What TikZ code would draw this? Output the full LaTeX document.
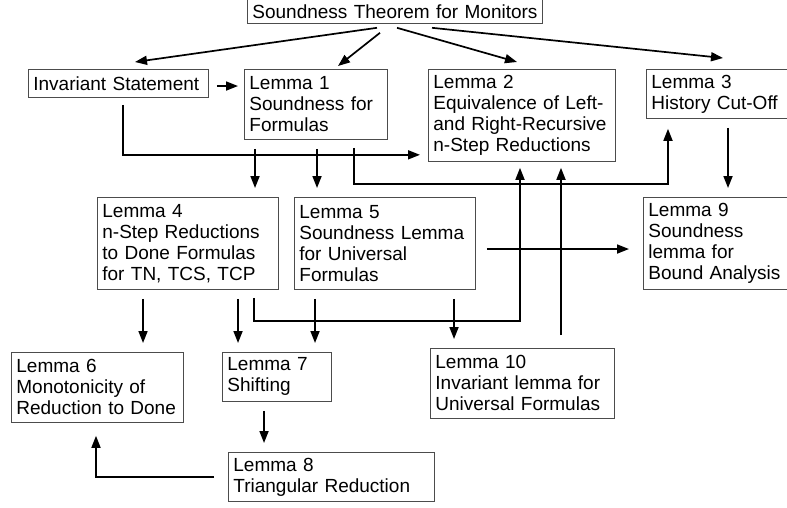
\documentclass[tikz,border=0pt]{standalone}
\usepackage{fontspec}
\setmainfont{Liberation Sans}
\usetikzlibrary{arrows.meta}

\begin{document}
\begin{tikzpicture}[x=1pt, y=-1pt]
\tikzstyle{lemma}=[draw=black!70, line width=0.8pt, rectangle, anchor=north west,
                   align=left, inner xsep=5pt, inner ysep=1pt,
                   font=\fontsize{19}{21}\selectfont]
\tikzstyle{arr}=[line width=1.7pt, -{Triangle[length=12pt, width=9pt]}]
\useasboundingbox (0,0) rectangle (787,507);

  % boxes, placed by their top left corner
  \node[lemma, text width=285pt, minimum height=24pt] (top) at (247,-1)
    {\mbox{Soundness Theorem for Monitors}};
  \node[lemma, text width=170pt, minimum height=28pt] (inv) at (28,69)
    {Invariant Statement};
  \node[lemma, text width=133pt, minimum height=70pt] (l1) at (244,69)
    {Lemma 1\\Soundness for\\Formulas};
  \node[lemma, text width=177pt, minimum height=92pt] (l2) at (428,69)
    {Lemma 2\\Equivalence of Left-\\and Right-Recursive\\n-Step Reductions};
  \node[lemma, text width=132pt, minimum height=49pt] (l3) at (646,69)
    {Lemma 3\\History Cut-Off};
  \node[lemma, text width=171pt, minimum height=92pt] (l4) at (97,197)
    {Lemma 4\\n-Step Reductions\\to Done Formulas\\for TN, TCS, TCP};
  \node[lemma, text width=171pt, minimum height=92pt] (l5) at (294,197)
    {Lemma 5\\Soundness Lemma\\for Universal\\Formulas};
  \node[lemma, text width=135pt, minimum height=92pt] (l9) at (643,197)
    {Lemma 9\\Soundness\\lemma for\\Bound Analysis};
  \node[lemma, text width=162pt, minimum height=70pt] (l6) at (11,352)
    {Lemma 6\\Monotonicity of\\Reduction to Done};
  \node[lemma, text width=99pt, minimum height=49pt] (l7) at (222,352)
    {Lemma 7\\Shifting};
  \node[lemma, text width=174pt, minimum height=70pt] (l10) at (430,348)
    {Lemma 10\\Invariant lemma for\\Universal Formulas};
  \node[lemma, text width=196pt, minimum height=49pt] (l8) at (228,452)
    {Lemma 8\\Triangular Reduction};

  % from the theorem
  \draw[arr] ([xshift=130, yshift=-4]top.south west) -- ([xshift=107, yshift=7]inv.north west);
  \draw[arr] ([xshift=133, yshift=-9]top.south west) -- ([xshift=94, yshift=3]l1.north west);
  \draw[arr] ([xshift=150, yshift=-4]top.south west) -- ([xshift=89, yshift=7]l2.north west);
  \draw[arr] ([xshift=185, yshift=-4]top.south west) -- ([xshift=77, yshift=11]l3.north west);

  % straight downward arrows
  \foreach \source/\xs/\dest/\xd in {l1/11/l4/158,
                                     l1/73/l5/23,
                                     l3/82/l9/85,
                                     l4/46/l6/132,
                                     l4/141/l7/16,
                                     l5/21/l7/93,
                                     l5/160/l10/24,
                                     l7/42/l8/36}
    \draw[arr] ([xshift=\xs, yshift=-9]\source.south west) -- ([xshift=\xd, yshift=9]\dest.north west);

  % the others
  \draw[arr] ([xshift=8, yshift=-17]inv.north east) -- ([xshift=-6, yshift=-17]l1.north west);
  \draw[arr] ([xshift=95, yshift=-7]inv.south west) |- ([xshift=-8, yshift=7]l2.south west);
  \draw[arr] ([xshift=110, yshift=-8]l1.south west) -- ([xshift=110, yshift=-44]l1.south west)
             -| ([xshift=22, yshift=-10]l3.south west);
  \draw[arr] ([xshift=11, yshift=-52]l5.north east) -- ([xshift=-14, yshift=-52]l9.north west);
  \draw[arr] ([xshift=157, yshift=-8]l4.south west) -- ([xshift=157, yshift=-31]l4.south west)
             -| ([xshift=92, yshift=-6]l2.south west);
  \draw[arr] ([xshift=131, yshift=13]l10.north west) -- ([xshift=133, yshift=-6]l2.south west);
  \draw[arr] ([xshift=-14, yshift=-25]l8.north west) -| ([xshift=85, yshift=-13]l6.south west);
\end{tikzpicture}
\end{document}
